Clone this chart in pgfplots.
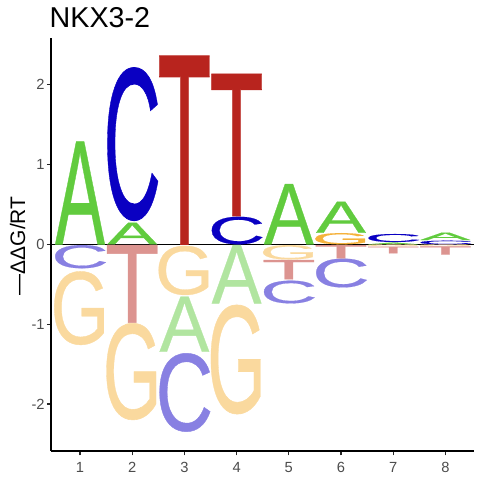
\documentclass[border=0pt]{standalone}
\usepackage{pgfplots}
\pgfplotsset{compat=1.18}
\usepackage{pgfplotstable}
\usepackage{graphicx}
\usepackage{fontspec}
\setmainfont{Liberation Sans}
\newfontfamily\logofont[FakeBold=0.4]{Liberation Sans}

\definecolor{cA}{RGB}{97,203,62}
\definecolor{cC}{RGB}{10,0,194}
\definecolor{cT}{RGB}{184,36,30}
\definecolor{cG}{RGB}{245,178,60}
\definecolor{pA}{RGB}{177,229,160}
\definecolor{pC}{RGB}{136,128,226}
\definecolor{pT}{RGB}{220,148,144}
\definecolor{pG}{RGB}{250,217,158}

% x = position, yb = bottom of letter, h = height of letter
\pgfplotstableread{
x yb h
1 0 1.285
2 0 0.272
5 0 0.755
6 0.145 0.39
7 0 0.02
8 0.054 0.092
}\posA
\pgfplotstableread{
x yb h
2 0.296 1.919
4 0 0.345
7 0.029 0.10
8 0 0.045
}\posC
\pgfplotstableread{
x yb h
3 0 2.36
4 0.355 1.779
}\posT
\pgfplotstableread{
x yb h
6 0 0.14
}\posG
\pgfplotstableread{
x yb h
1 -0.30 0.29
3 -2.348 0.982
5 -0.74 0.284
6 -0.54 0.36
}\negC
\pgfplotstableread{
x yb h
1 -1.26 0.92
2 -2.20 1.21
3 -0.635 0.615
4 -2.127 1.367
5 -0.19 0.18
7 -0.022 0.02
8 -0.022 0.02
}\negG
\pgfplotstableread{
x yb h
2 -0.98 0.97
5 -0.44 0.243
6 -0.176 0.166
7 -0.113 0.083
8 -0.13 0.103
}\negT
\pgfplotstableread{
x yb h
3 -1.346 0.689
4 -0.74 0.73
}\negA

\pgfplotsset{
  logo/.style n args={3}{
    only marks, mark=*, mark size=0pt, mark options={draw=none, fill=none},
    point meta=explicit symbolic,
    nodes near coords={\pgfmathsetlengthmacro\hlen{79.8*\pgfplotspointmeta}\resizebox*{#3pt}{\hlen}{\textcolor{#2}{\logofont #1}}},
    nodes near coords style={anchor=south, inner sep=0pt, outer sep=0pt},
  },
}

\begin{document}
\begin{tikzpicture}
\useasboundingbox (0pt,0pt) rectangle (480pt,480pt);
\begin{axis}[
  at={(51.3pt,29pt)}, anchor=south west,
  x=52.2pt, y=79.8pt,
  xmin=0.45, xmax=8.55, ymin=-2.59, ymax=2.59,
  axis lines=left,
  axis line style={-, line width=1.7pt, black},
  tick align=outside,
  major tick length=4.5pt,
  tick style={line width=1.2pt, color=black!85},
  xtick={1,2,3,4,5,6,7,8},
  xticklabels={1,2,3,4,5,6,7,8},
  ytick={-2,-1,0,1,2},
  yticklabels={-2,-1,0,1,2},
  tick label style={font=\fontsize{14.7}{16}\selectfont, text=black!70, inner sep=0pt},
  xticklabel style={anchor=north, yshift=-7pt},
  yticklabel style={anchor=east, xshift=-2pt},
  title={NKX3-2},
  title style={at={(axis description cs:0,1)}, anchor=base west, inner sep=0pt,
    font=\fontsize{28.7}{30}\selectfont, xshift=-1.8pt, yshift=4.6pt},
  ylabel={—ΔΔG/RT},
  every axis y label/.style={at={(axis description cs:-0.0622,0.496)}, rotate=90,
    anchor=base, inner sep=0pt, font=\fontsize{21}{24}\selectfont},
  clip=false,
]
\addplot[logo={A}{cA}{49.8}] table[x=x, y=yb, meta=h] {\posA};
\addplot[logo={C}{cC}{57.6}] table[x=x, y=yb, meta=h] {\posC};
\addplot[logo={T}{cT}{54.2}] table[x=x, y=yb, meta=h] {\posT};
\addplot[logo={G}{cG}{59.0}] table[x=x, y=yb, meta=h] {\posG};
\addplot[logo={C}{pC}{57.6}] table[x=x, y=yb, meta=h] {\negC};
\addplot[logo={G}{pG}{59.0}] table[x=x, y=yb, meta=h] {\negG};
\addplot[logo={T}{pT}{54.2}] table[x=x, y=yb, meta=h] {\negT};
\addplot[logo={A}{pA}{49.8}] table[x=x, y=yb, meta=h] {\negA};
\addplot[black, line width=1.3pt, mark=none] coordinates {(0.45,0) (8.55,0)};
\end{axis}
\end{tikzpicture}
\end{document}
